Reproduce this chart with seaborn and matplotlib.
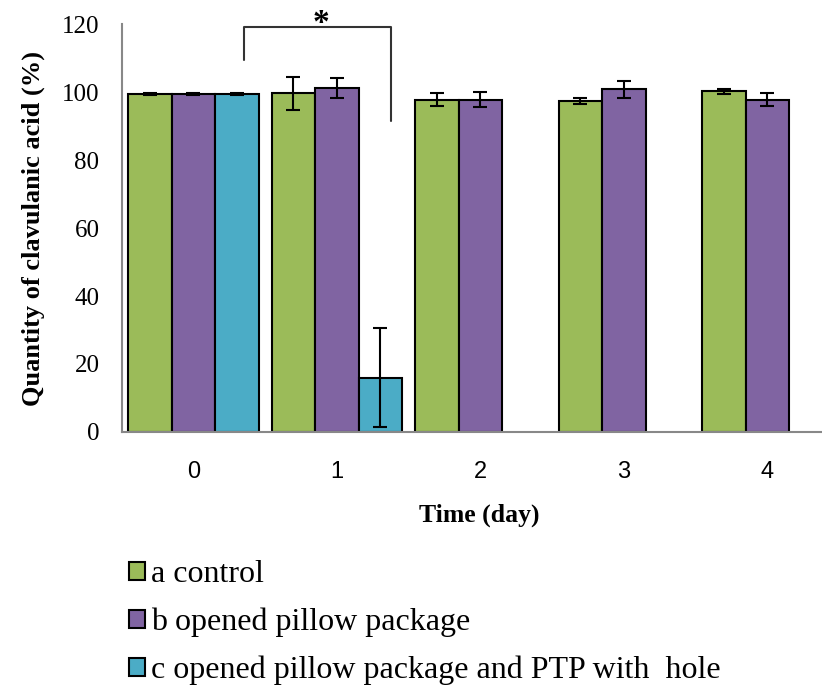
import numpy as np
import pandas as pd
import matplotlib
matplotlib.use('Agg')
import matplotlib.pyplot as plt
import seaborn as sns

# valores
days = ['0', '1', '2', '3', '4']
treatments = ['a control', 'b opened pillow package',
              'c opened pillow package and PTP with  hole']
control = [99.5, 99.6, 97.8, 97.3, 100.2]
opened = [99.5, 101.3, 97.8, 100.8, 97.8]
opened_hole = [99.5, 16.0, np.nan, np.nan, np.nan]
err_control = [0.3, 4.8, 1.9, 0.9, 0.8]
err_opened = [0.3, 2.9, 2.1, 2.6, 1.9]
err_hole = [0.3, 14.5, np.nan, np.nan, np.nan]
colors = ['#9BBB59', '#8064A2', '#4BACC6']

values = [control, opened, opened_hole]
errors = [err_control, err_opened, err_hole]
data = pd.DataFrame({
    'Time': days * 3,
    'Treatment': np.repeat(treatments, len(days)),
    'Value': np.concatenate(values),
})

sns.set_style('white')
plt.rcParams['font.family'] = ['Liberation Serif', 'DejaVu Serif']
plt.rcParams['text.color'] = 'black'
plt.rcParams['axes.labelcolor'] = 'black'
plt.rcParams['xtick.labelcolor'] = 'black'
plt.rcParams['ytick.labelcolor'] = 'black'

fig = plt.figure(figsize=(8.22, 6.9), dpi=100)
ax = fig.add_axes([0.148, 0.374, 0.852, 0.591])

sns.barplot(data=data, x='Time', y='Value', hue='Treatment', order=days,
            hue_order=treatments, palette=colors, errorbar=None,
            edgecolor='black', linewidth=1.5, width=0.91, saturation=1, ax=ax)

# barras de error
bar_conts = list(ax.containers)
for h, cont in enumerate(bar_conts):
    for bar in cont:
        if bar is None:
            continue
        xc = bar.get_x() + bar.get_width() / 2
        k = int(round(xc))
        e = errors[h][k]
        if np.isnan(e):
            continue
        ax.errorbar(xc, bar.get_height(), yerr=e, color='black', capsize=5,
                    elinewidth=1.5, capthick=1.5, fmt='none', zorder=5)

# marca de significancia
ax.plot([0.35, 0.35, 1.38, 1.38], [109.5, 119.3, 119.3, 91.5], color='#333333',
        lw=1.5, clip_on=False)
ax.text(0.89, 117.6, '*', ha='center', va='baseline', fontsize=24,
        fontweight='bold', clip_on=False)

ax.set_ylim(0, 120)
ax.set_xlim(-0.5, 4.38)
ax.set_yticks(range(0, 121, 20))
ax.set_xticks(range(5))
ax.set_xticks(np.arange(0.5, 4.5, 1), minor=True)
ax.tick_params(axis='y', length=6, width=1.5, color='#888888', labelsize=18, pad=10)
ax.tick_params(axis='x', which='major', length=0, labelsize=17, pad=21)
ax.tick_params(axis='x', which='minor', length=5, width=1.2, color='#888888')
for lab in ax.get_xticklabels():
    lab.set_family('Liberation Sans')

for side in ['top', 'right']:
    ax.spines[side].set_visible(False)
for side in ['left', 'bottom']:
    ax.spines[side].set_color('#888888')
    ax.spines[side].set_linewidth(1.5)

ax.set_xlabel('Time (day)', fontsize=18.5, fontweight='bold', labelpad=15)
ax.xaxis.set_label_coords(0.51, -0.175)
ax.set_ylabel('Quantity of clavulanic acid (%)', fontsize=19, fontweight='bold',
              labelpad=12)

sns.move_legend(ax, 'upper left', bbox_to_anchor=(0.141, 0.207),
                bbox_transform=fig.transFigure, frameon=False, title=None,
                fontsize=23, handlelength=0.5, handleheight=0.5,
                handletextpad=0.2, labelspacing=0.58, borderaxespad=0)

fig.savefig('out.png', dpi=100)
